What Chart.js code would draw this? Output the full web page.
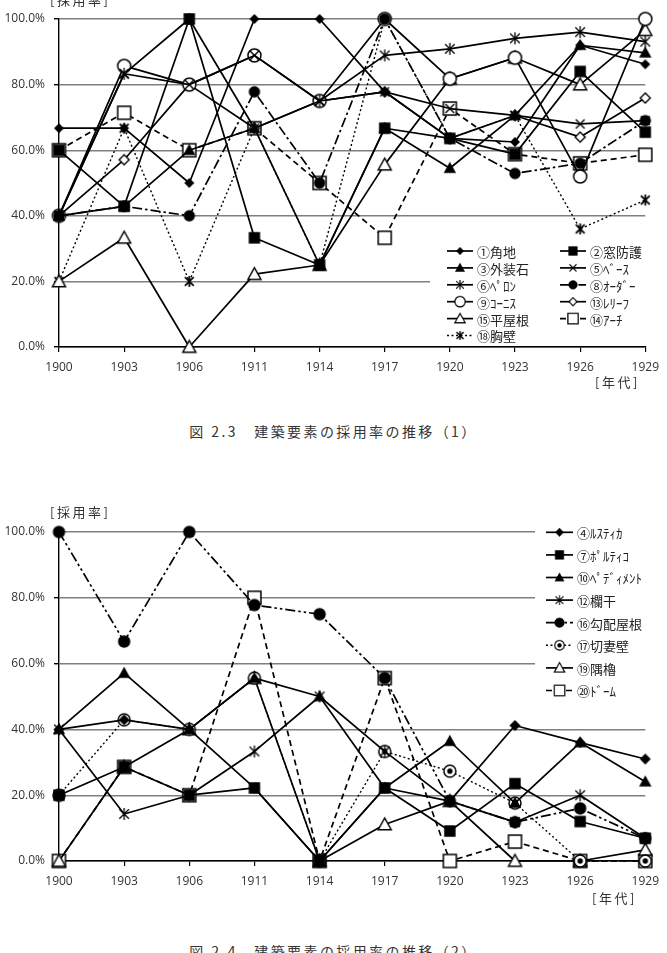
<!DOCTYPE html>
<html>
<head>
<meta charset="utf-8">
<script src="https://cdn.jsdelivr.net/npm/chart.js@4.4.1/dist/chart.umd.min.js"></script>
<style>
html, body { margin: 0; padding: 0; background: #fff; }
body { width: 667px; height: 953px; position: relative; overflow: hidden; font-family: 'Noto Sans CJK JP', sans-serif; }
canvas { position: absolute; left: 0; }
.lbl { position: absolute; font-size: 13px; line-height: 14px; color: #333; letter-spacing: 2.5px; white-space: nowrap; }
.cap { position: absolute; left: 0; width: 667px; text-align: center; font-size: 14px; line-height: 18px; letter-spacing: 2.4px; color: #333; white-space: nowrap; }
</style>
</head>
<body>
<canvas id="fig23" width="667" height="400" style="top:0"></canvas>
<canvas id="fig24" width="667" height="400" style="top:500px"></canvas>
<div class="lbl" style="left:50px;top:-7px">[採用率]</div>
<div class="lbl" style="left:595px;top:375px">[年代]</div>
<div class="cap" style="top:422px">図 2.3　建築要素の採用率の推移（1）</div>
<div class="lbl" style="left:50px;top:505px">[採用率]</div>
<div class="lbl" style="left:592px;top:891px">[年代]</div>
<div class="cap" style="top:942px">図 2.4　建築要素の採用率の推移（2）</div>
<script>
const years = ['1900', '1903', '1906', '1911', '1914', '1917', '1920', '1923', '1926', '1929'];
const yStep = 20;

// 図2.3 (%)
const kadochi   = [66.7, 66.7, 50, 100, 100, 77.8, 63.6, 62.5, 92, 86.2];
const madoBogo  = [60, 42.9, 100, 33.3, 25, 66.7, 63.6, 58.8, 84, 65.5];
const gaisoseki = [40, 42.9, 60, 66.7, 25, 66.7, 54.5, 70.6, 92, 89.7];
const base      = [40, 83.3, 80, 88.9, 75, 77.8, 72.7, 70.6, 68, 69];
const perron    = [40, 83.3, 100, 66.7, 75, 88.9, 90.9, 94.1, 96, 93.1];
const order     = [40, 42.9, 40, 77.8, 50, 100, 63.6, 52.9, 56, 69];
const cornice   = [40, 85.7, 80, 88.9, 75, 100, 81.8, 88.2, 52, 100];
const relief    = [40, 57.1, 80, 66.7, 75, 77.8, 63.6, 70.6, 64, 75.9];
const hirayane  = [20, 33.3, 0, 22.2, 25, 55.6, 81.8, 88.2, 80, 96.6];
const arch      = [60, 71.4, 60, 66.7, 50, 33.3, 72.7, 58.8, 56, 58.6];
const kyoheki   = [20, 66.7, 20, 66.7, 25, 100, 63.6, 70.6, 36, 44.8];

// 図2.4 (%)
const rustica   = [40, 42.9, 40, 22.2, 0, 22.2, 18.2, 41.2, 36, 31];
const portico   = [20, 28.6, 20, 22.2, 0, 22.2, 9.1, 23.5, 12, 6.9];
const pediment  = [40, 57.1, 40, 55.6, 50, 22.2, 36.4, 17.6, 36, 24.1];
const rankan    = [40, 14.3, 20, 33.3, 50, 33.3, 18.2, 11.8, 20, 6.9];
const kobaiYane = [100, 66.7, 100, 77.8, 75, 55.6, 18.2, 11.8, 16, 6.9];
const kirizuma  = [20, 42.9, 40, 55.6, 0, 33.3, 27.3, 17.6, 0, 0];
const sumiYagura = [0, 28.6, 40, 55.6, 0, 11.1, 18.2, 0, 0, 3.4];
const dome      = [0, 28.6, 20, 80, 0, 55.6, 0, 5.9, 0, 0];

const DASH = [6, 4];
const DASHDOT = [10, 3, 2.5, 3];
const DASHDOT2 = [10, 3, 2.5, 3, 2.5, 3];
const DOT = [2, 2.5];

// marker images, drawn once and used as pointStyle
function makeMarker(shape, d, fill, lw) {
	const s = Math.ceil(d + 6);
	const c = document.createElement('canvas');
	c.width = s;
	c.height = s;
	const g = c.getContext('2d');
	const m = s / 2, r = d / 2;
	g.lineWidth = lw || 1.4;
	g.strokeStyle = '#000';
	g.fillStyle = fill ? '#000' : '#fff';
	g.beginPath();
	if (shape === 'diamond') {
		g.moveTo(m, m - r); g.lineTo(m + r, m); g.lineTo(m, m + r); g.lineTo(m - r, m); g.closePath();
		g.fill(); g.stroke();
	} else if (shape === 'square') {
		g.rect(m - r, m - r, d, d);
		g.fill(); g.stroke();
	} else if (shape === 'triangle') {
		g.moveTo(m, m - r); g.lineTo(m + r, m + r * 0.8); g.lineTo(m - r, m + r * 0.8); g.closePath();
		g.fill(); g.stroke();
	} else if (shape === 'circle' || shape === 'circleDot') {
		g.arc(m, m, r, 0, Math.PI * 2);
		g.fill(); g.stroke();
		if (shape === 'circleDot') {
			g.beginPath(); g.fillStyle = '#000';
			g.arc(m, m, r * 0.45, 0, Math.PI * 2); g.fill();
		}
	} else {
		// x / star
		const k = r * 0.8;
		g.moveTo(m - k, m - k); g.lineTo(m + k, m + k);
		g.moveTo(m + k, m - k); g.lineTo(m - k, m + k);
		if (shape === 'star') { g.moveTo(m, m - r); g.lineTo(m, m + r); }
		g.stroke();
	}
	return c;
}

function series(label, data, mk, dash, width) {
	return {
		label: label,
		data: data,
		borderColor: '#000',
		backgroundColor: '#000',
		borderWidth: width || 1.7,
		borderDash: dash || [],
		borderJoinStyle: 'round',
		pointStyle: mk,
		pointRadius: 6,
		pointHoverRadius: 6,
		tension: 0,
		fill: false,
		clip: false,
	};
}

// legend in a white box inside the plot, like the spreadsheet one
function boxLegend(lay) {
	return {
		id: 'boxLegend',
		afterDraw(chart) {
			const ctx = chart.ctx;
			ctx.save();
			ctx.fillStyle = '#fff';
			ctx.fillRect(lay.box[0], lay.box[1], lay.box[2], lay.box[3]);
			ctx.font = lay.font;
			ctx.textBaseline = 'middle';
			chart.data.datasets.forEach((ds, i) => {
				const x = lay.cols[i % lay.cols.length];
				const y = lay.y0 + Math.floor(i / lay.cols.length) * lay.dy;
				ctx.strokeStyle = '#000';
				ctx.lineWidth = ds.borderWidth;
				ctx.setLineDash(ds.borderDash);
				ctx.beginPath();
				ctx.moveTo(x, y);
				ctx.lineTo(x + lay.len, y);
				ctx.stroke();
				ctx.setLineDash([]);
				const img = ds.pointStyle;
				const w = img.width * 0.8;
				ctx.drawImage(img, x + lay.len / 2 - w / 2, y - w / 2, w, w);
				ctx.fillStyle = '#222';
				ctx.fillText(ds.label, x + lay.len + 4, y + 1);
			});
			ctx.restore();
		},
	};
}

const tickFont = { family: "'Open Sans', sans-serif", size: 12 };

function makeChart(id, datasets, padTop, xHeight, lay) {
	return new Chart(document.getElementById(id), {
		type: 'line',
		data: { labels: years, datasets: datasets },
		plugins: [boxLegend(lay)],
		options: {
			animation: false,
			responsive: false,
			events: [],
			layout: { padding: { top: padTop, right: 20, left: 0, bottom: 0 } },
			plugins: { legend: { display: false }, tooltip: { enabled: false } },
			scales: {
				x: {
					offset: false,
					grid: { drawOnChartArea: false, drawTicks: true, tickLength: 5, color: '#000', lineWidth: 1.2, offset: false },
					border: { color: '#000', width: 1.4 },
					ticks: { color: '#333', font: tickFont, padding: 8, maxRotation: 0, autoSkip: false },
					afterFit: (s) => { s.height = xHeight; },
				},
				y: {
					min: 0,
					max: 100,
					ticks: { stepSize: yStep, color: '#333', font: tickFont, padding: 9, callback: (v) => v.toFixed(1) + '%' },
					grid: { color: '#7f7f7f', lineWidth: 1.4, tickLength: 5, tickColor: '#000' },
					border: { color: '#000', width: 1.4 },
					afterFit: (s) => { s.width = 59; },
				},
			},
		},
	});
}

const sets23 = [
	series('①角地', kadochi, makeMarker('diamond', 8, true)),
	series('②窓防護', madoBogo, makeMarker('square', 10, true)),
	series('③外装石', gaisoseki, makeMarker('triangle', 10, true)),
	series('⑤ﾍﾞｰｽ', base, makeMarker('x', 11, false, 1.4)),
	series('⑥ﾍﾟﾛﾝ', perron, makeMarker('star', 12, false, 1.3)),
	series('⑧ｵｰﾀﾞｰ', order, makeMarker('circle', 10, true), DASHDOT),
	series('⑨ｺｰﾆｽ', cornice, makeMarker('circle', 13, false, 1.5)),
	series('⑬ﾚﾘｰﾌ', relief, makeMarker('diamond', 10, false, 1.4)),
	series('⑮平屋根', hirayane, makeMarker('triangle', 13, false, 1.5)),
	series('⑭ｱｰﾁ', arch, makeMarker('square', 13, false, 1.5), DASH),
	series('⑱胸壁', kyoheki, makeMarker('star', 11, false, 1.8), DOT, 1.4),
];

const sets24 = [
	series('④ﾙｽﾃｨｶ', rustica, makeMarker('diamond', 9, true)),
	series('⑦ﾎﾟﾙﾃｨｺ', portico, makeMarker('square', 10, true)),
	series('⑩ﾍﾟﾃﾞｨﾒﾝﾄ', pediment, makeMarker('triangle', 10, true)),
	series('⑫欄干', rankan, makeMarker('star', 12, false, 1.3)),
	series('⑯勾配屋根', kobaiYane, makeMarker('circle', 11, true), DASHDOT2),
	series('⑰切妻壁', kirizuma, makeMarker('circleDot', 12, false, 1.5), DOT, 1.4),
	series('⑲隅櫓', sumiYagura, makeMarker('triangle', 13, false, 1.5)),
	series('⑳ﾄﾞｰﾑ', dome, makeMarker('square', 13, false, 1.5), DASH),
];

makeChart('fig23', sets23, 19, 53, {
	box: [430, 240, 220, 105], cols: [447, 560], len: 26, y0: 251, dy: 16.9,
	font: "13px 'Noto Sans CJK JP', sans-serif",
});
makeChart('fig24', sets24, 32, 39, {
	box: [535, 18, 115, 183], cols: [546], len: 27, y0: 32.3, dy: 22.6,
	font: "13px 'Noto Sans CJK JP', sans-serif",
});
</script>
</body>
</html>
